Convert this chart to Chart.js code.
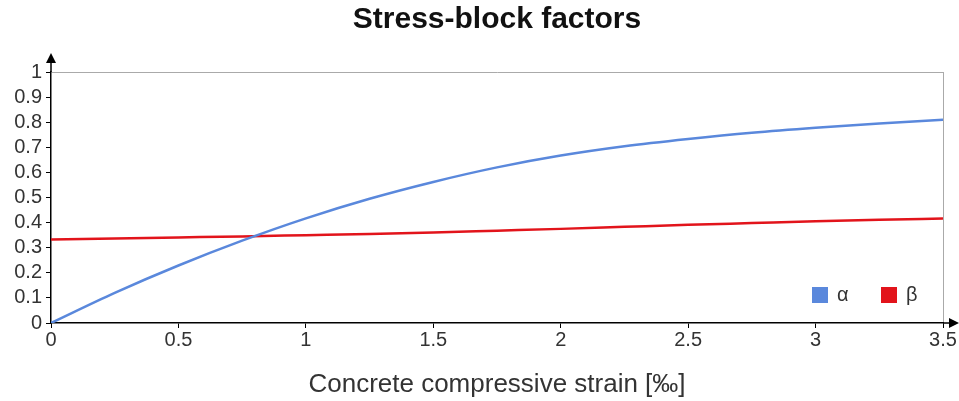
<!DOCTYPE html>
<html>
<head>
<meta charset="utf-8">
<script src="https://cdn.jsdelivr.net/npm/chart.js@4/dist/chart.umd.min.js"></script>
<style>
  html, body { margin: 0; padding: 0; background: #fff; }
  #wrap { width: 959px; height: 401px; }
</style>
</head>
<body>
<div id="wrap"><canvas id="stressChart" width="959" height="401"></canvas></div>
<script>
// strain values [‰] and the two factors
const strain = [0, 0.25, 0.5, 0.75, 1, 1.25, 1.5, 1.75, 2, 2.25, 2.5, 2.75, 3, 3.25, 3.5];
const alphaVals = [0, 0.12, 0.229, 0.328, 0.417, 0.495, 0.562, 0.62, 0.667, 0.704, 0.733, 0.758, 0.778, 0.795, 0.81];
const betaVals = [0.333, 0.337, 0.341, 0.345, 0.35, 0.355, 0.361, 0.368, 0.375, 0.383, 0.391, 0.398, 0.405, 0.411, 0.416];
const seriesNames = ["α", "β"];
const seriesColors = ["#5a88dc", "#e2141b"];
const chartTitle = "Stress-block factors";

const FONT = "'Liberation Sans', Arial, sans-serif";

// title, axis arrows + inside legend
const extrasPlugin = {
  id: "extras",
  afterDraw(chart) {
    const { ctx, chartArea } = chart;
    const x0 = chartArea.left, y0 = chartArea.bottom;
    ctx.save();

    // title (centred over the plot, not the canvas)
    ctx.font = "bold 30px " + FONT;
    ctx.fillStyle = "#111";
    ctx.textAlign = "center";
    ctx.textBaseline = "middle";
    ctx.fillText(chartTitle, 497, 20);

    ctx.strokeStyle = "#000";
    ctx.fillStyle = "#000";
    ctx.lineWidth = 1.5;
    // y axis extension + arrow
    ctx.beginPath();
    ctx.moveTo(x0, chartArea.top);
    ctx.lineTo(x0, chartArea.top - 12);
    ctx.stroke();
    ctx.beginPath();
    ctx.moveTo(x0, chartArea.top - 19);
    ctx.lineTo(x0 - 5, chartArea.top - 9);
    ctx.lineTo(x0 + 5, chartArea.top - 9);
    ctx.closePath();
    ctx.fill();
    // x axis extension + arrow
    ctx.beginPath();
    ctx.moveTo(chartArea.right, y0);
    ctx.lineTo(chartArea.right + 8, y0);
    ctx.stroke();
    ctx.beginPath();
    ctx.moveTo(chartArea.right + 16, y0);
    ctx.lineTo(chartArea.right + 6, y0 - 5);
    ctx.lineTo(chartArea.right + 6, y0 + 5);
    ctx.closePath();
    ctx.fill();

    // legend
    ctx.font = "20px " + FONT;
    ctx.textAlign = "left";
    ctx.textBaseline = "middle";
    const ly = 295;
    const lx = [812, 881];
    chart.data.datasets.forEach((ds, i) => {
      ctx.fillStyle = ds.borderColor;
      ctx.fillRect(lx[i], ly - 8, 16, 16);
      ctx.fillStyle = "#333";
      ctx.fillText(ds.label, lx[i] + 25, ly);
    });
    ctx.restore();
  }
};

new Chart(document.getElementById("stressChart"), {
  type: "line",
  data: {
    datasets: [
      {
        label: seriesNames[0],
        data: strain.map((x, i) => ({ x, y: alphaVals[i] })),
        borderColor: seriesColors[0],
        borderWidth: 2.5,
        pointRadius: 0,
        cubicInterpolationMode: "monotone",
        fill: false
      },
      {
        label: seriesNames[1],
        data: strain.map((x, i) => ({ x, y: betaVals[i] })),
        borderColor: seriesColors[1],
        borderWidth: 2.5,
        pointRadius: 0,
        cubicInterpolationMode: "monotone",
        fill: false
      }
    ]
  },
  options: {
    responsive: false,
    animation: false,
    layout: { padding: { left: 0, right: 16, top: 72, bottom: 0 } },
    plugins: {
      legend: { display: false },
      tooltip: { enabled: false },
      title: { display: false }
    },
    scales: {
      x: {
        type: "linear",
        min: 0,
        max: 3.5,
        afterFit: s => { s.height = 78; },
        ticks: {
          stepSize: 0.5,
          color: "#333",
          font: { family: FONT, size: 20 },
          padding: 0,
          maxRotation: 0,
          autoSkip: false,
          callback: v => String(+v.toFixed(1))
        },
        grid: {
          drawOnChartArea: true,
          color: c => (c.tick && c.tick.value === 3.5 ? "#aaa" : "rgba(0,0,0,0)"),
          tickColor: "#000",
          tickLength: 5
        },
        border: { color: "#000", width: 1.5 },
        title: {
          display: true,
          text: "Concrete compressive strain [‰]",
          color: "#333",
          font: { family: FONT, size: 26 },
          padding: { top: 4, bottom: 1 }
        }
      },
      y: {
        min: 0,
        max: 1,
        afterFit: s => { s.width = 51; },
        ticks: {
          stepSize: 0.1,
          color: "#333",
          font: { family: FONT, size: 20 },
          padding: 4,
          autoSkip: false,
          callback: v => String(+v.toFixed(1))
        },
        grid: {
          color: c => (c.tick && c.tick.value === 1 ? "#aaa" : "rgba(0,0,0,0)"),
          tickColor: "#000",
          tickLength: 5
        },
        border: { color: "#000", width: 1.5 }
      }
    }
  },
  plugins: [extrasPlugin]
});
</script>
</body>
</html>
